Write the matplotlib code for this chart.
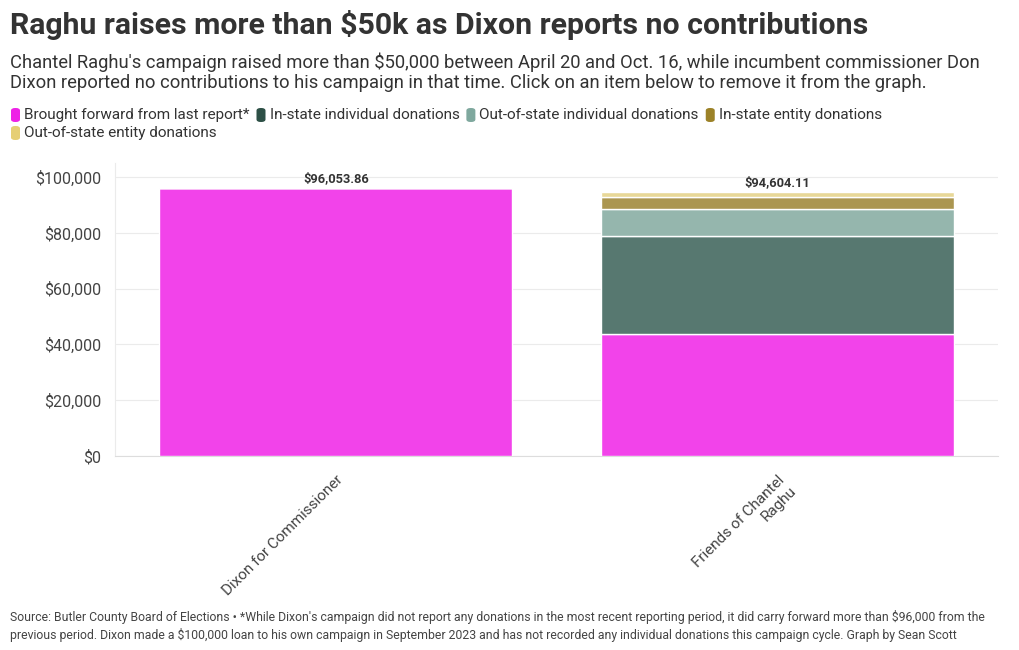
import matplotlib
matplotlib.use("Agg")
import matplotlib.pyplot as plt
from matplotlib.patches import FancyBboxPatch
from matplotlib.ticker import FuncFormatter
import numpy as np

# ── Data ──────────────────────────────────────────────────────────────────────
committees = ["Dixon for Commissioner", "Friends of Chantel\nRaghu"]
series_names = [
    "Brought forward from last report*",
    "In-state individual donations",
    "Out-of-state individual donations",
    "In-state entity donations",
    "Out-of-state entity donations",
]
brought_forward = [96053.86, 43700.00]
instate_indiv   = [0, 35250.00]
outstate_indiv  = [0, 9600.00]
instate_entity  = [0, 4250.00]
outstate_entity = [0, 1804.11]
totals = ["$96,053.86", "$94,604.11"]
yticks = [0, 20000, 40000, 60000, 80000, 100000]

bar_colors    = ["#f243ea", "#577870", "#95b6ad", "#ab9650", "#e8d898"]
legend_colors = ["#ee22e6", "#2d5046", "#7fa89e", "#9c8228", "#e6cf74"]

TITLE = "Raghu raises more than $50k as Dixon reports no contributions"
SUB = ("Chantel Raghu's campaign raised more than $50,000 between April 20 and Oct. 16, while incumbent commissioner Don\n"
       "Dixon reported no contributions to his campaign in that time. Click on an item below to remove it from the graph.")
NOTE = ("Source: Butler County Board of Elections \u2022 *While Dixon's campaign did not report any donations in the most recent reporting period, it did carry forward more than $96,000 from the\n"
        "previous period. Dixon made a $100,000 loan to his own campaign in September 2023 and has not recorded any individual donations this campaign cycle. Graph by Sean Scott")

plt.rcParams["font.family"] = ["Roboto", "DejaVu Sans"]

W, H = 1020, 650
fig = plt.figure(figsize=(10.2, 6.5), dpi=100)
fig.patch.set_facecolor("white")

fig.text(10 / W, 1 - 25 / H, TITLE, fontsize=21.8, fontweight="bold", color="#333333", va="center")
fig.text(10 / W, 1 - 72 / H, SUB, fontsize=13.2, color="#333333", va="center", linespacing=1.1)

# ── Legend (manual flow layout) ──────────────────────────────────────────────
renderer = fig.canvas.get_renderer()
x, y = 11, 115
for name, col in zip(series_names, legend_colors):
    t = fig.text(0, 0, name, fontsize=11, color="#333333", va="center")
    tw = t.get_window_extent(renderer).width
    if x + 13 + tw > 910:
        x, y = 11, 133
    fig.patches.append(FancyBboxPatch((x / W, 1 - (y + 7) / H), 9 / W, 14 / H,
                                      boxstyle="round,pad=0,rounding_size=0.004",
                                      transform=fig.transFigure, color=col, lw=0))
    t.set_position(((x + 13) / W, 1 - y / H))
    x += 13 + tw + 7

# ── Chart ────────────────────────────────────────────────────────────────────
ax = fig.add_axes([115 / W, 1 - 456 / H, (998 - 115) / W, (456 - 163) / H])
xpos = np.arange(len(committees))
bottom = np.zeros(len(committees))
for vals, col in zip([brought_forward, instate_indiv, outstate_indiv, instate_entity, outstate_entity], bar_colors):
    v = np.array(vals, dtype=float)
    ax.bar(xpos, v, 0.8, bottom=bottom, color=col, edgecolor="white", linewidth=1, zorder=3)
    bottom += v

for xi, tot, lab in zip(xpos, bottom, totals):
    ax.text(xi, tot + 1200, lab, ha="center", va="bottom", fontsize=9.3, fontweight="bold", color="#333333")

ax.set_xlim(-0.5, 1.5)
ax.set_ylim(0, 105000)
ax.set_yticks(yticks)
ax.yaxis.set_major_formatter(FuncFormatter(lambda v, p: f"${v:,.0f}"))
ax.tick_params(axis="y", length=0, labelsize=11.5, labelcolor="#444444", pad=10)
ax.set_xticks(xpos)
ax.set_xticklabels(committees, rotation=45, ha="right", rotation_mode="anchor",
                   fontsize=11, color="#444444")
ax.tick_params(axis="x", length=0, pad=12)
ax.grid(axis="y", color="#ebebeb", linewidth=0.8, zorder=0)
for s in ["top", "right"]:
    ax.spines[s].set_visible(False)
ax.spines["left"].set_color("#ebebeb")
ax.spines["bottom"].set_color("#dddddd")

fig.text(10 / W, 1 - 626 / H, NOTE, fontsize=8.8, color="#444444", va="center", linespacing=1.3)

fig.savefig("out.png", dpi=100)
